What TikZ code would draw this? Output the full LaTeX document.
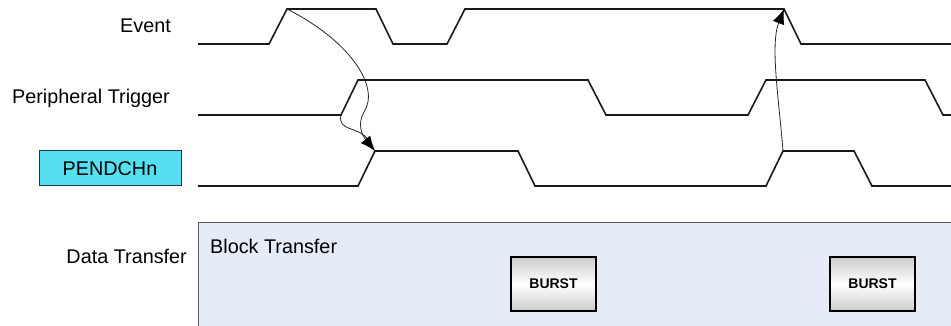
\documentclass[tikz,border=0pt]{standalone}
\usepackage{fontspec}
\setmainfont{Liberation Sans}
\usetikzlibrary{arrows.meta}
\definecolor{pendfill}{RGB}{85,223,240}
\definecolor{datafill}{RGB}{230,236,247}
\definecolor{databorder}{RGB}{90,90,90}
\begin{document}
\begin{tikzpicture}[x=1pt,y=-1pt,
  wave/.style={line width=1.6pt,line join=miter,color=black!90},
  conn/.style={line width=0.8pt,color=black!85},
  tip/.style={-{Latex[length=15pt,width=12pt,color=black]}},
  lbl/.style={anchor=base east,inner sep=0pt,font=\fontsize{19.8}{23}\selectfont},
  pendbox/.style={draw=black!80,line width=1pt,fill=pendfill,minimum width=142pt,minimum height=35pt,inner sep=0pt,font=\fontsize{19.8}{23}\selectfont},
  databox/.style={draw=databorder,line width=1.2pt,fill=datafill,anchor=north west,minimum width=780pt,minimum height=130pt,inner sep=0pt},
  burst/.style={draw=black,line width=1.4pt,top color=black!20,bottom color=black!20,middle color=white,minimum width=85pt,minimum height=54pt,inner sep=0pt,font=\bfseries\fontsize{14}{16}\selectfont}
]
\useasboundingbox (0,0) rectangle (951,326);
\clip (0,0) rectangle (951,326);
% labels
\node[lbl] (lev) at (171,33) {Event};
\node[lbl] (lpt) at (170,104) {Peripheral Trigger};
\node[pendbox] (pend) at (110,168.5) {PENDCHn};
\node[lbl] (ldt) at (187,263) {Data Transfer};
% data transfer area
\node[databox] (data) at (198,222) {};
\node[anchor=base west,inner sep=0pt,font=\fontsize{19.8}{23}\selectfont] (blk) at (210,253) {Block Transfer};
\node[burst] (b1) at (553.5,284) {BURST};
\node[burst] (b2) at (872.5,284) {BURST};
% waveforms
\draw[wave] (198,44) -- (269,44) -- (287,9) coordinate (evr) -- (376,9) -- (393,44) -- (447,44) -- (465,9) -- (784,9) coordinate (evf) -- (801,44) -- (955,44);
\draw[wave] (198,115) -- (341,115) coordinate (ptr) -- (358,80) -- (588,80) -- (606,115) -- (748,115) -- (766,80) -- (925,80) -- (943,115) -- (955,115);
\draw[wave] (198,186) -- (358,186) -- (375,151) coordinate (pr1) -- (518,151) -- (535,186) -- (766,186) -- (783,151) coordinate (pr2) -- (854,151) -- (872,186) -- (955,186);
% causality arrows
\draw[conn] (ptr) .. controls (337,132) and (360,126) .. (368,140);
\draw[conn,tip] (evr) .. controls (352,42) and (380,88) .. (364,112) .. controls (357,124) and (362,135) .. (pr1);
\draw[conn,tip] (pr2) .. controls (779,100) and (770,45) .. (evf);
\end{tikzpicture}
\end{document}
